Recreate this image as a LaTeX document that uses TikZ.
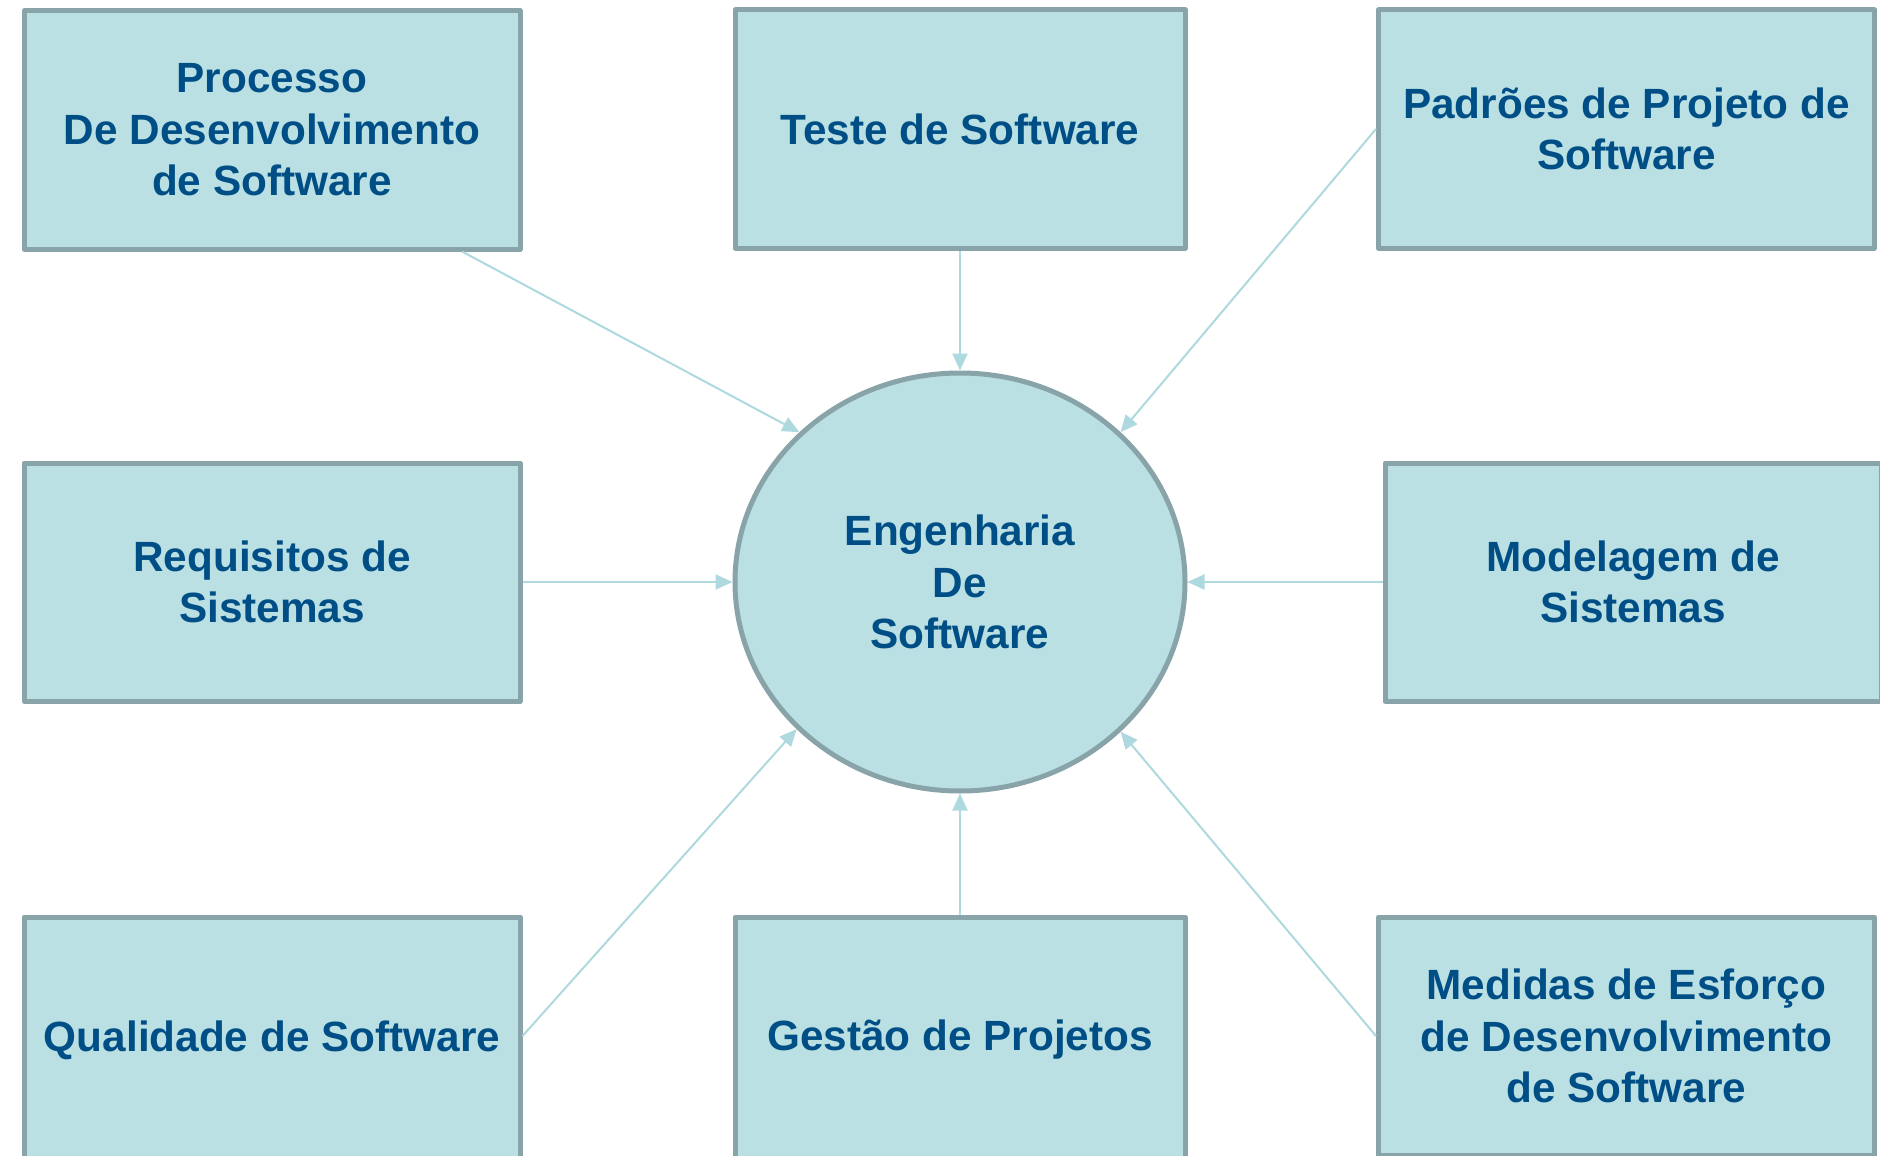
\documentclass[tikz,border=0pt]{standalone}
\usepackage{fontspec}
\setmainfont{Liberation Sans}
\usetikzlibrary{arrows.meta,shapes.geometric}
\definecolor{boxfill}{HTML}{BAE0E3}
\definecolor{boxline}{HTML}{88A4A8}
\definecolor{txt}{HTML}{004E86}
\definecolor{arr}{HTML}{AED9DE}
\begin{document}
\begin{tikzpicture}[x=1pt,y=-1pt,
  label font/.style={font=\fontsize{42.3}{51.5}\selectfont\bfseries},
  topic/.style={draw=boxline, fill=boxfill, line width=5pt, line join=round,
    minimum width=496pt, minimum height=238pt, align=center, text=txt,
    label font, inner sep=0pt},
  core/.style={ellipse, draw=boxline, fill=boxfill, line width=5pt,
    minimum width=450pt, minimum height=418pt, align=center, text=txt,
    label font, inner sep=0pt},
  link/.style={draw=arr, line width=2pt, -{Triangle[length=17pt,width=15pt]}}]
\useasboundingbox (0,0) rectangle (1880,1156);
\fill[white] (0,0) rectangle (1880,1156);
\node[topic] (tl) at (272,130) {Processo\\De Desenvolvimento\\de Software};
\node[topic, minimum width=450pt] (tm) at (960,129) {Teste de Software};
\node[topic] (tr) at (1626.5,129) {Padrões de Projeto de\\Software};
\node[topic] (ml) at (272,582) {Requisitos de\\Sistemas};
\node[core] (e) at (960,582) {Engenharia\\De\\Software};
\node[topic] (mr) at (1633,582) {Modelagem de\\Sistemas};
\node[topic, minimum height=246pt] (bl) at (272,1040) {Qualidade de Software};
\node[topic, minimum width=450pt, minimum height=246pt] (bm) at (960,1040) {Gestão de Projetos};
\node[topic] (br) at (1626.5,1036) {Medidas de Esforço\\de Desenvolvimento\\de Software};
\draw[link] ([xshift=190pt]tl.south) -- (e.137);
\draw[link] (tm.south) -- (e.north);
\draw[link] (tr.west) -- (e.43);
\draw[link] (ml.east) -- (e.west);
\draw[link] (mr.west) -- (e.east);
\draw[link] ([yshift=4pt]bl.east) -- (e.222);
\draw[link] (bm.north) -- (e.south);
\draw[link] (br.west) -- (e.317);
\end{tikzpicture}
\end{document}
